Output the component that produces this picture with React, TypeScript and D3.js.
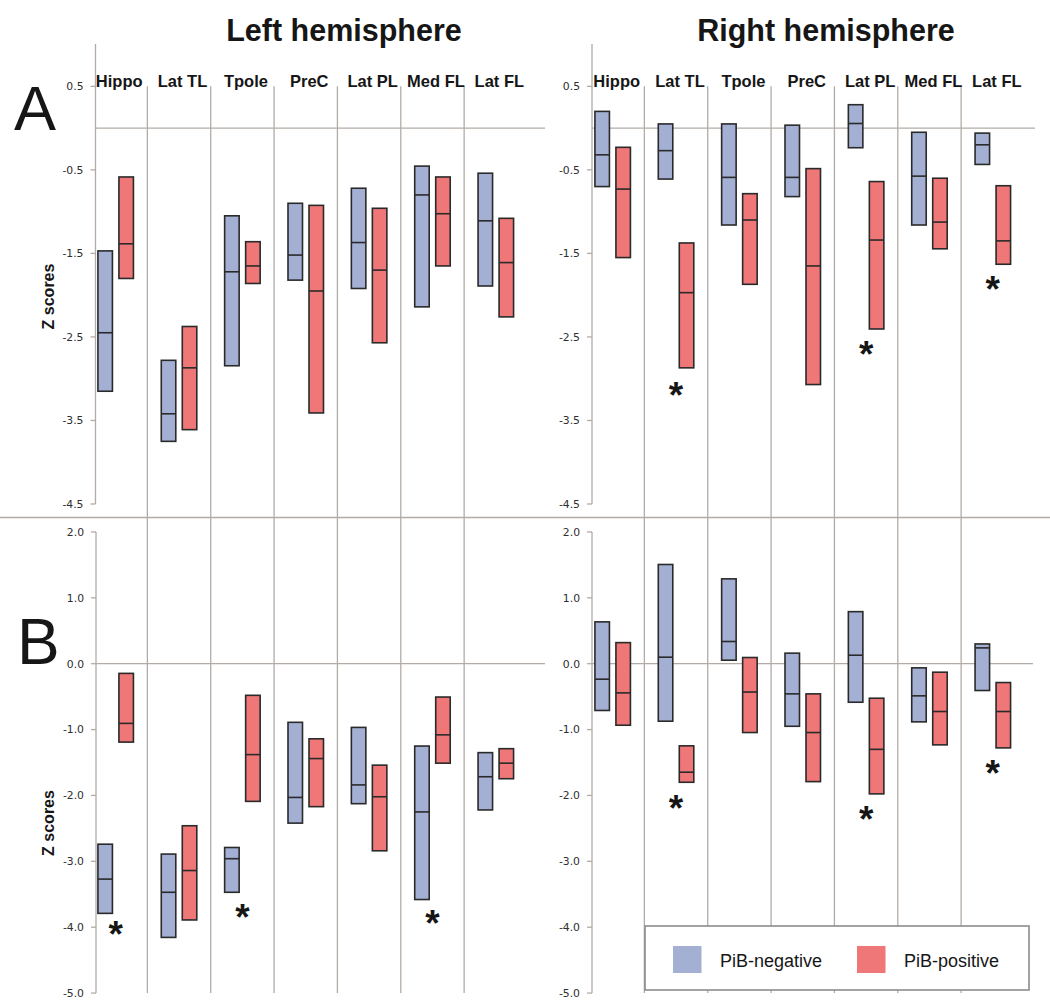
import React from 'react';
import * as d3 from 'd3';

// ---------- data ----------
const categories = ['Hippo', 'Lat TL', 'Tpole', 'PreC', 'Lat PL', 'Med FL', 'Lat FL'];
const groups = ['PiB-negative', 'PiB-positive'];

// each entry: [low, median, high]
const aLeftNeg = [[-3.15, -2.45, -1.47], [-3.75, -3.42, -2.78], [-2.845, -1.72, -1.05], [-1.82, -1.52, -0.9], [-1.92, -1.37, -0.72], [-2.14, -0.8, -0.455], [-1.89, -1.11, -0.54]];
const aLeftPos = [[-1.8, -1.385, -0.585], [-3.61, -2.87, -2.375], [-1.86, -1.65, -1.36], [-3.41, -1.95, -0.925], [-2.57, -1.7, -0.96], [-1.65, -1.025, -0.585], [-2.26, -1.61, -1.08]];
const aRightNeg = [[-0.7, -0.32, 0.2], [-0.61, -0.27, 0.05], [-1.16, -0.59, 0.05], [-0.82, -0.59, 0.035], [-0.235, 0.055, 0.28], [-1.16, -0.575, -0.05], [-0.435, -0.2, -0.06]];
const aRightPos = [[-1.55, -0.73, -0.23], [-2.87, -1.97, -1.375], [-1.87, -1.1, -0.785], [-3.07, -1.65, -0.485], [-2.405, -1.34, -0.64], [-1.445, -1.125, -0.6], [-1.63, -1.35, -0.69]];
const bLeftNeg = [[-3.79, -3.27, -2.74], [-4.155, -3.47, -2.89], [-3.47, -2.96, -2.79], [-2.42, -2.03, -0.89], [-2.125, -1.84, -0.967], [-3.58, -2.25, -1.25], [-2.22, -1.716, -1.35]];
const bLeftPos = [[-1.19, -0.906, -0.147], [-3.89, -3.14, -2.46], [-2.09, -1.38, -0.48], [-2.17, -1.44, -1.14], [-2.84, -2.02, -1.54], [-1.51, -1.08, -0.506], [-1.746, -1.51, -1.29]];
const bRightNeg = [[-0.71, -0.235, 0.635], [-0.873, 0.099, 1.506], [0.053, 0.337, 1.288], [-0.95, -0.458, 0.16], [-0.585, 0.129, 0.79], [-0.883, -0.488, -0.063], [-0.407, 0.24, 0.3]];
const bRightPos = [[-0.934, -0.443, 0.32], [-1.8, -1.647, -1.247], [-1.045, -0.43, 0.094], [-1.79, -1.045, -0.458], [-1.976, -1.3, -0.524], [-1.232, -0.726, -0.129], [-1.278, -0.726, -0.286]];

// significance asterisks (value where the * sits, null = none)
const aLeftStars: (number | null)[] = [null, null, null, null, null, null, null];
const aRightStars: (number | null)[] = [null, -3.115, null, null, -2.62, null, -1.84];
const bLeftStars: (number | null)[] = [-4.0, null, -3.74, null, null, -3.83, null];
const bRightStars: (number | null)[] = [null, -2.08, null, null, -2.255, null, -1.56];

const aTicks = [0.5, -0.5, -1.5, -2.5, -3.5, -4.5];
const bTicks = [2, 1, 0, -1, -2, -3, -4, -5];

// ---------- style ----------
const BLUE = '#a3b0d3';
const RED = '#ef7777';
const EDGE = '#2a2a2a';
const GRID = '#b3aba6';
const TXT = '#161616';

const yA = d3.scaleLinear().domain([0, -4.5]).range([128.1, 504]);
const yB = d3.scaleLinear().domain([0, -4]).range([663.7, 927.2]);
const xLeft = d3.scaleBand<string>().domain(categories).range([84, 527.5]);
const xRight = d3.scaleBand<string>().domain(categories).range([581, 1024.5]);
const gOff = d3.scalePoint<string>().domain(groups).range([-10.5, 10.5]);
const BOXW = 14.5;

type Panel = {
  x: d3.ScaleBand<string>;
  y: d3.ScaleLinear<number, number>;
  axisX: number;
  top: number;
  ticks: number[];
  fmt: (v: number) => string;
  neg: number[][];
  pos: number[][];
  stars: (number | null)[];
  zeroEnd: number;
};

const fmtA = (v: number) => d3.format('.1f')(v).replace('−', '-');
const panels: Panel[] = [
  { x: xLeft, y: yA, axisX: 95.5, top: 44, ticks: aTicks, fmt: fmtA, neg: aLeftNeg, pos: aLeftPos, stars: aLeftStars, zeroEnd: 545 },
  { x: xRight, y: yA, axisX: 592, top: 44, ticks: aTicks, fmt: fmtA, neg: aRightNeg, pos: aRightPos, stars: aRightStars, zeroEnd: 1035 },
  { x: xLeft, y: yB, axisX: 96, top: yB(2), ticks: bTicks, fmt: fmtA, neg: bLeftNeg, pos: bLeftPos, stars: bLeftStars, zeroEnd: 545 },
  { x: xRight, y: yB, axisX: 592, top: yB(2), ticks: bTicks, fmt: fmtA, neg: bRightNeg, pos: bRightPos, stars: bRightStars, zeroEnd: 1033 },
];

function PanelView({ p }: { p: Panel }) {
  const bottom = p.y(p.ticks[p.ticks.length - 1]);
  const step = p.x.step();
  return (
    <g>
      {/* axis */}
      <line x1={p.axisX} x2={p.axisX} y1={p.top} y2={bottom} stroke={GRID} strokeWidth={1.3} />
      {p.ticks.map((t) => (
        <g key={t}>
          <line x1={p.axisX - 5} x2={p.axisX} y1={p.y(t)} y2={p.y(t)} stroke={GRID} strokeWidth={1.3} />
          <text x={p.axisX - 12} y={p.y(t)} dy="0.36em" textAnchor="end" fontFamily="DejaVu Sans, Verdana, sans-serif" fontSize={10.8} fill="#2e2e2e">
            {p.fmt(t)}
          </text>
        </g>
      ))}
      {/* zero line */}
      <line x1={p.axisX} x2={p.zeroEnd} y1={p.y(0)} y2={p.y(0)} stroke={GRID} strokeWidth={1.3} />
      {/* boxes */}
      {categories.map((c, i) => {
        const cx = (p.x(c) as number) + step / 2;
        return (
          <g key={c}>
            {[p.neg[i], p.pos[i]].map((d, gi) => {
              const g = groups[gi];
              const x0 = cx + (gOff(g) as number) - BOXW / 2;
              return (
                <g key={g}>
                  <rect x={x0} y={p.y(d[2])} width={BOXW} height={p.y(d[0]) - p.y(d[2])} fill={gi === 0 ? BLUE : RED} stroke={EDGE} strokeWidth={1.6} />
                  <line x1={x0} x2={x0 + BOXW} y1={p.y(d[1])} y2={p.y(d[1])} stroke={EDGE} strokeWidth={1.6} />
                </g>
              );
            })}
            {p.stars[i] !== null && (
              <text x={cx} y={p.y(p.stars[i] as number) + 20} textAnchor="middle" fontFamily="Liberation Sans, Arial, sans-serif" fontWeight="bold" fontSize={37} fill={TXT}>
                *
              </text>
            )}
          </g>
        );
      })}
    </g>
  );
}

export default function App() {
  const sepTop = yA(0.5);
  const sepBottom = yB(-5);
  return (
    <svg width={1050} height={1002} style={{ position: 'absolute', left: 0, top: 0, background: '#fff' }} fontFamily="Liberation Sans, Arial, sans-serif">
      <rect x={0} y={0} width={1050} height={1002} fill="#fff" />
      {/* category separators */}
      {[xLeft, xRight].map((x, k) =>
        categories.slice(1).map((c) => (
          <line key={k + c} x1={x(c)} x2={x(c)} y1={sepTop} y2={sepBottom} stroke={GRID} strokeWidth={1.3} />
        ))
      )}
      {/* divider between A and B */}
      <line x1={0} x2={1050} y1={517.5} y2={517.5} stroke={GRID} strokeWidth={1.3} />
      {panels.map((p, i) => (
        <PanelView key={i} p={p} />
      ))}
      {/* category labels */}
      {categories.map((c) => (
        <g key={c}>
          <text x={(xLeft(c) as number) + xLeft.step() / 2 + 3.5} y={87} textAnchor="middle" fontWeight="bold" fontSize={16.5} fill={TXT}>
            {c}
          </text>
          <text x={(xRight(c) as number) + xRight.step() / 2 + 4} y={87} textAnchor="middle" fontWeight="bold" fontSize={16.5} fill={TXT}>
            {c}
          </text>
        </g>
      ))}
      {/* titles */}
      <text x={344} y={41} textAnchor="middle" fontWeight="bold" fontSize={30.5} fill={TXT}>Left hemisphere</text>
      <text x={826} y={41} textAnchor="middle" fontWeight="bold" fontSize={30.5} fill={TXT}>Right hemisphere</text>
      {/* panel letters */}
      <text x={14} y={130} fontSize={63} fill={TXT}>A</text>
      <text x={17} y={664} fontSize={64} fill={TXT}>B</text>
      {/* y-axis titles */}
      <text transform={`translate(53.5,296.5) rotate(-90)`} textAnchor="middle" fontWeight="bold" fontSize={16} fill={TXT}>Z scores</text>
      <text transform={`translate(53.5,823) rotate(-90)`} textAnchor="middle" fontWeight="bold" fontSize={16} fill={TXT}>Z scores</text>
      {/* legend */}
      <rect x={645} y={926} width={384} height={64} fill="#fff" stroke="#8c8c8c" strokeWidth={1.6} />
      <rect x={673} y={946} width={28.5} height={27} fill={BLUE} />
      <text x={720} y={967} fontSize={18} fill={TXT}>{groups[0]}</text>
      <rect x={857} y={946} width={28.5} height={27} fill={RED} />
      <text x={904} y={967} fontSize={18} fill={TXT}>{groups[1]}</text>
    </svg>
  );
}
